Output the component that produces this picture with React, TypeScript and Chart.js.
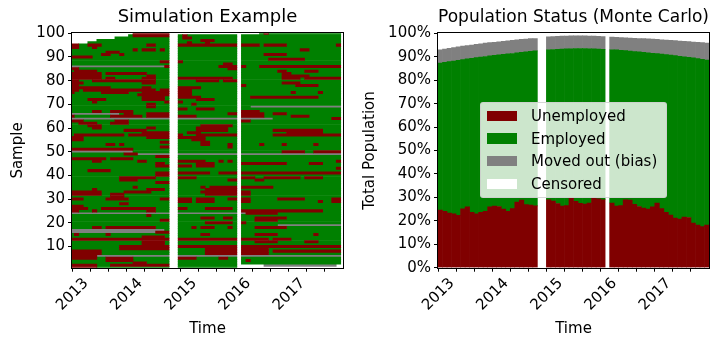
import React, { useEffect, useRef } from 'react';
import { Chart, registerables } from 'chart.js';

Chart.register(...registerables);
Chart.defaults.font.family = "'DejaVu Sans', sans-serif";
Chart.defaults.color = '#000';

// ---------------- data ----------------
const START_YEAR = 2013;
const MONTH_COUNT = 60;
const censoredMonths = [22, 23, 37];
const monthTicks = [0, 4, 8, 12, 16, 20, 24, 28, 32, 36, 40, 44, 48, 52, 56];
const sampleTicks = [10, 20, 30, 40, 50, 60, 70, 80, 90, 100];
const percentTicks = [0, 10, 20, 30, 40, 50, 60, 70, 80, 90, 100];

const seriesLabels = ['Unemployed', 'Employed', 'Moved out (bias)', 'Censored'];
const seriesColors = ['#800000', '#008000', '#808080', '#ffffff'];

const leftTitle = 'Simulation Example';
const rightTitle = 'Population Status (Monte Carlo)';
const xTitle = 'Time';
const leftYTitle = 'Sample';
const rightYTitle = 'Total Population';

// Right panel: monthly shares (%), null = censored month
const unemployedPct = [
  24.6, 24.1, 23.3, 23.0, 22.3, 25.1, 26.0, 23.6, 23.0, 23.6, 24.1, 26.0,
  26.3, 26.1, 25.0, 24.1, 25.2, 28.0, 28.9, 26.9, 26.7, 26.4, null, null,
  29.0, 28.4, 27.4, 26.3, 26.5, 29.6, 28.3, 27.5, 27.1, 27.6, 29.6, 29.4,
  29.0, null, 27.6, 26.3, 26.5, 29.0, 28.9, 27.0, 26.1, 25.4, 25.0, 26.0,
  27.6, 25.2, 23.6, 22.4, 21.2, 20.7, 21.6, 21.4, 19.0, 18.2, 17.5, 18.2,
];
const employedTopPct = [
  87.3, 87.6, 87.9, 88.2, 88.5, 88.8, 89.1, 89.3, 89.6, 89.9, 90.1, 90.4,
  90.6, 90.8, 91.0, 91.2, 91.4, 91.7, 91.9, 92.1, 92.3, 92.5, null, null,
  93.0, 93.1, 93.2, 93.3, 93.4, 93.4, 93.5, 93.5, 93.5, 93.4, 93.4, 93.3,
  93.2, null, 93.0, 92.9, 92.7, 92.6, 92.4, 92.2, 92.1, 91.9, 91.7, 91.5,
  91.3, 91.1, 90.9, 90.7, 90.5, 90.2, 90.0, 89.7, 89.5, 89.2, 88.9, 88.6,
];
const observedTopPct = [
  93.0, 93.3, 93.6, 93.9, 94.2, 94.5, 94.8, 95.0, 95.3, 95.5, 95.8, 96.0,
  96.2, 96.4, 96.6, 96.8, 97.0, 97.2, 97.4, 97.5, 97.7, 97.8, null, null,
  98.5, 98.6, 98.7, 98.8, 98.8, 98.9, 98.9, 98.9, 98.9, 98.8, 98.8, 98.7,
  98.6, null, 98.4, 98.3, 98.2, 98.1, 98.0, 97.9, 97.8, 97.7, 97.6, 97.5,
  97.4, 97.2, 97.1, 97.0, 96.9, 96.7, 96.6, 96.5, 96.3, 96.2, 96.0, 95.8,
];

// Left panel: one simulated sample per row, from sample 100 (top) down to 1.
// Base state is employed; tokens "a-bX" mark months a..b as
// r = unemployed, m = moved out, . = censored.
const sampleRows = [
  '0-13. 14-21r 24-36. 38-41. 43r',
  '0-12. 14-21r 25r',
  '0-9. 25-26r',
  '0-5. 29-31r',
  '0-3. 26r 30r',
  '0-1r 4-6r 17-18r 24-36r 38-41r 43-47r 59r',
  '0-1r 5r',
  '14r 16-18r 20r 51-52r',
  '8-10r',
  '7-8r 11r 43-47r',
  '0-4r',
  '44-51r',
  '20-21r 24r',
  '34-35r',
  '0-20m 21r 33-36r 38r 42-59r',
  '0-1r 35-36r',
  '1-5r 46-47r 52-54r',
  '0-6r 8-16r 47-48r',
  '0-6r 17-18r 47-52r',
  '0-6r 8-9r 16-18r 24-33r 34-35r 47-50r 52-59r',
  '0-1r 5-18r 28-32r 34-36r',
  '0-2r 16-18r 47-50r',
  '0-1r 38r 50-54r',
  '0-8r 16-17r 24-28r',
  '0-1r 3-18r 20-21r 24-26r',
  '0r 7-12r 16-21r 24-26r 49r 55r',
  '15-21r 24-26r',
  '16-20r 24-28r 40-54r',
  '4-7r 16-20r 28-31r',
  '5r 21r 24r',
  '17-18r 27r',
  '17-18r 40-59m',
  '24-25r 28-31r',
  '5-6r 9-13r 38-41r',
  '0-10m 12-13r 17-21r 35-36r 38-42r 45-47r',
  '0r 9-15r 17-21r 24-27r 38-42r 49-52r',
  '0-44m 58-59r',
  '0-2r 10-12r 38-39r',
  '2-5r 9-12r',
  '4-6r 29-35r',
  '5-6r 17-18r 28-34r',
  '12-16r 28-34r 45-55r',
  '16-21r 26-28r 48-55r',
  '1-11r 13-21r 24r 28-36r 45-59r',
  '0-2r 17-21r 24-29r',
  '0-2r 27-29r',
  '20-21r 29-30r',
  '8-9r 11r 29-30r 35r 42r 47r 54r',
  '20-21r 35r',
  '0-13r',
  '0-13m 47-51r 54-59r',
  '12-14r 15-59m',
  '19-21r',
  '0-7r 9-13r',
  '5-6r 15-16r 24-29r 33r 35r 59r',
  '19-20r 28-31r 38-47r 53-55r',
  '19-21r 24-26r 28-31r',
  '59r',
  '4-8r',
  '19-21r 24-30r 33-36r 38-59r',
  '19-21r',
  '11-18r 24-27r 38-40r 43-50r 52-55r',
  '11-14r 35-36r 41-42r',
  '19-21r',
  '',
  '14r 29r 31-36r 38-44r',
  '5r 17-20r 30-36r',
  '0-6r 12-17r 29-36r 38-39r',
  '0-6r 9-11r 30-36r 38-39r',
  '9-11r',
  '0-2r 8-12r 20-21r 24-26r 28-31r 35-36r 38-39r 46-51r 58-59r',
  '24-26r 28-31r 38-39r 55r 58-59r',
  '11-12r',
  '0-2r',
  '0-3r 7-16r 17-18r 24-25r 30-35r',
  '0-1r 5r 17-18r 38-55r',
  '0-38m 39-45r',
  '17r',
  '29-31r 34-35r 41-47r',
  '20-21r 41-45r',
  '30-35r 38r',
  '46-59m',
  '5-6r 8-18r 27r 29-31r 35r 41-47r',
  '0-20m',
  '0-18m 19-21r',
  '1r 8r 29-30r 41-45r 54r',
  '16-20r',
  '0-21r 24-36r 38-43r 45-48r',
  '16-20r 41-45r 52-54r',
  '16-20r',
  '11-21r 24-36r 38-59r',
  '11-21r 30-36r 38-43r',
  '0-6r 30-36r 38-43r 45-59r',
  '0-6r 30-36r 38-43r',
  '0-5r 6-59m',
  '0-5r 8-13r 24-27r 33-34r',
  '8-13r 39r',
  '14-16r',
  '0-5r 9-21r 38-42. 43-58m 59.',
  '0-5r 38-59.',
];

// ---------------- helpers ----------------
function parseRow(spec: string): string[] {
  const states: string[] = Array(MONTH_COUNT).fill('g');
  spec.split(/\s+/).filter(Boolean).forEach((tok) => {
    const m = tok.match(/^(\d+)(?:-(\d+))?([rgm.])$/);
    if (!m) return;
    const a = Number(m[1]);
    const b = m[2] !== undefined ? Number(m[2]) : a;
    for (let i = a; i <= b; i++) states[i] = m[3];
  });
  censoredMonths.forEach((i) => (states[i] = '.'));
  return states;
}

function buildRuns() {
  const runs: Record<string, { x: number[]; y: number }[]> = { r: [], g: [], m: [] };
  sampleRows.forEach((spec, idx) => {
    const sample = sampleRows.length - idx;
    const st = parseRow(spec);
    let start = 0;
    for (let i = 1; i <= MONTH_COUNT; i++) {
      if (i === MONTH_COUNT || st[i] !== st[start]) {
        const s = st[start];
        if (s !== '.') runs[s].push({ x: [start - 0.5, i - 0.5], y: sample });
        start = i;
      }
    }
  });
  return runs;
}

const monthLabel = (v: number) => (v % 12 === 0 ? String(START_YEAR + v / 12) : '');

const framePlugin = {
  id: 'frame',
  afterDatasetsDraw(chart: any) {
    const { ctx, chartArea: a } = chart;
    ctx.save();
    ctx.strokeStyle = '#000';
    ctx.lineWidth = 1;
    const l = Math.round(a.left) - 0.5;
    const t = Math.round(a.top) - 0.5;
    const r = Math.round(a.right) + 0.5;
    const b = Math.round(a.bottom) + 0.5;
    ctx.strokeRect(l, t, r - l, b - t);
    ctx.restore();
  },
};

const gridOpts = {
  display: true,
  drawOnChartArea: false,
  drawTicks: true,
  tickLength: 4,
  tickColor: '#000',
  offset: false,
};

function timeAxis(extra: any) {
  return {
    type: 'linear',
    min: 0,
    max: MONTH_COUNT,
    offset: false,
    grid: gridOpts,
    border: { display: false },
    ticks: {
      autoSkip: false,
      minRotation: 45,
      maxRotation: 45,
      padding: 3,
      labelOffset: 14,
      font: { size: 15 },
      color: '#000',
      callback: (v: any) => monthLabel(Number(v)),
    },
    title: { display: true, text: xTitle, font: { size: 15 }, color: '#000', padding: { top: 0, bottom: 0.5 } },
    afterBuildTicks: (s: any) => {
      s.ticks = monthTicks.map((v) => ({ value: v }));
    },
    afterFit: (s: any) => {
      s.height = 71.3;
      s.paddingLeft = 0;
      s.paddingRight = 0;
    },
    ...extra,
  };
}

function titleOpts(text: string) {
  return {
    display: true,
    text,
    fullSize: false,
    font: { size: 18, weight: 'normal' },
    color: '#000',
    padding: { top: 7, bottom: 4.7 },
  };
}

// ---------------- components ----------------
function SimulationChart() {
  const ref = useRef<HTMLCanvasElement>(null);
  useEffect(() => {
    const runs = buildRuns();
    const chart = new Chart(ref.current as HTMLCanvasElement, {
      type: 'bar',
      data: {
        datasets: [
          { label: seriesLabels[0], data: runs.r, backgroundColor: seriesColors[0], clip: 0 },
          { label: seriesLabels[1], data: runs.g, backgroundColor: seriesColors[1], clip: 0 },
          { label: seriesLabels[2], data: runs.m, backgroundColor: seriesColors[2], clip: 0 },
        ] as any,
      },
      options: {
        indexAxis: 'y',
        animation: false,
        responsive: false,
        events: [],
        datasets: { bar: { grouped: false, barPercentage: 1, categoryPercentage: 1, borderWidth: 0 } } as any,
        layout: { padding: { left: 0, right: 18, top: 0, bottom: 0 } },
        plugins: {
          legend: { display: false },
          tooltip: { enabled: false },
          title: titleOpts(leftTitle) as any,
        },
        scales: {
          x: timeAxis({}) as any,
          y: {
            type: 'linear',
            min: 1,
            max: 100,
            offset: false,
            grid: gridOpts,
            border: { display: false },
            ticks: { autoSkip: false, padding: 3, font: { size: 15 }, color: '#000' },
            title: { display: true, text: leftYTitle, font: { size: 15 }, color: '#000', padding: { top: 9.5, bottom: 0 } },
            afterBuildTicks: (s: any) => {
              s.ticks = sampleTicks.map((v) => ({ value: v }));
            },
            afterFit: (s: any) => {
              s.width = 72;
              s.paddingTop = 0;
              s.paddingBottom = 0;
            },
          } as any,
        },
      },
      plugins: [framePlugin],
    });
    return () => chart.destroy();
  }, []);
  return <canvas ref={ref} width={361} height={339} style={{ position: 'absolute', left: 0, top: 0 }} />;
}

function PopulationChart() {
  const ref = useRef<HTMLCanvasElement>(null);
  useEffect(() => {
    const unemp: any[] = [];
    const emp: any[] = [];
    const moved: any[] = [];
    const cens: any[] = [];
    for (let m = 0; m < MONTH_COUNT; m++) {
      const x = m + 0.5;
      const u = unemployedPct[m];
      const e = employedTopPct[m];
      const o = observedTopPct[m];
      if (u === null || e === null || o === null) {
        cens.push({ x, y: 100 });
        continue;
      }
      unemp.push({ x, y: u });
      emp.push({ x, y: e - u });
      moved.push({ x, y: o - e });
      cens.push({ x, y: 100 - o });
    }
    const series = [unemp, emp, moved, cens];
    const chart = new Chart(ref.current as HTMLCanvasElement, {
      type: 'bar',
      data: {
        datasets: series.map((data, k) => ({
          label: seriesLabels[k],
          data,
          backgroundColor: seriesColors[k],
          stack: 'pop',
          clip: 0,
        })) as any,
      },
      options: {
        animation: false,
        responsive: false,
        events: [],
        datasets: { bar: { barPercentage: 1, categoryPercentage: 1, borderWidth: 0 } } as any,
        layout: { padding: { left: 0, right: 14, top: 0, bottom: 0 } },
        plugins: {
          legend: { display: false },
          tooltip: { enabled: false },
          title: titleOpts(rightTitle) as any,
        },
        scales: {
          x: timeAxis({ stacked: true }) as any,
          y: {
            type: 'linear',
            stacked: true,
            min: 0,
            max: 100,
            offset: false,
            grid: gridOpts,
            border: { display: false },
            ticks: { autoSkip: false, padding: 3, font: { size: 15 }, color: '#000', callback: (v: any) => `${v}%` },
            title: { display: true, text: rightYTitle, font: { size: 15 }, color: '#000', padding: { top: 0, bottom: 0 } },
            afterBuildTicks: (s: any) => {
              s.ticks = percentTicks.map((v) => ({ value: v }));
            },
            afterFit: (s: any) => {
              s.width = 77;
              s.paddingTop = 0;
              s.paddingBottom = 0;
            },
          } as any,
        },
      },
      plugins: [framePlugin],
    });
    return () => chart.destroy();
  }, []);
  return <canvas ref={ref} width={362} height={339} style={{ position: 'absolute', left: 361, top: 0 }} />;
}

function Legend() {
  return (
    <div
      style={{
        position: 'absolute',
        left: 480,
        top: 102,
        width: 187,
        height: 96,
        boxSizing: 'border-box',
        background: 'rgba(255,255,255,0.8)',
        border: '1px solid rgba(204,204,204,0.8)',
        borderRadius: 3,
        fontFamily: "'DejaVu Sans', sans-serif",
        fontSize: 15,
        color: '#000',
      }}
    >
      {seriesLabels.map((label, k) => (
        <div key={label} style={{ position: 'absolute', left: 0, top: 2 + k * 22.7, height: 22, width: '100%' }}>
          <span
            style={{
              position: 'absolute',
              left: 6,
              top: 5.5,
              width: 30,
              height: 10.5,
              background: seriesColors[k],
            }}
          />
          <span style={{ position: 'absolute', left: 50, top: 0, lineHeight: '22px', whiteSpace: 'nowrap' }}>{label}</span>
        </div>
      ))}
    </div>
  );
}

export default function App() {
  return (
    <div style={{ position: 'absolute', left: 0, top: 0, width: 723, height: 339, background: '#fff', overflow: 'hidden' }}>
      <SimulationChart />
      <PopulationChart />
      <Legend />
    </div>
  );
}
